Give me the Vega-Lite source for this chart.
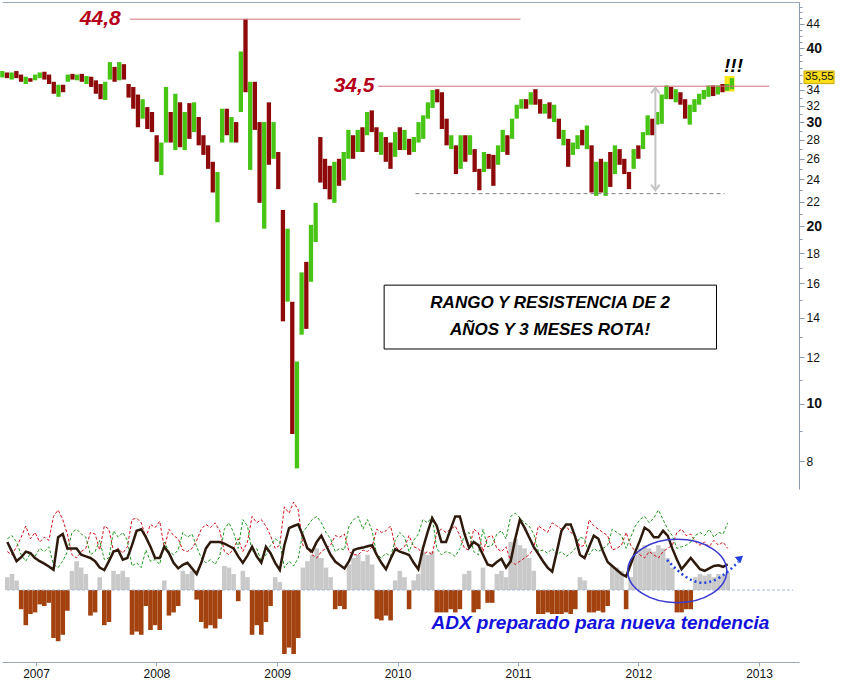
{
"$schema":"https://vega.github.io/schema/vega-lite/v6.json",
"padding":0,
"background":"white",
"spacing":5,
"config":{"view":{"stroke":null},"font":"Liberation Sans"},
"datasets":{
"bars":[
{"d":"2006-10-06","o":36.0,"h":36.6,"l":35.7,"c":36.3,"adx":30,"hist":8,"dip":32,"dim":24},
{"d":"2006-10-20","o":36.3,"h":36.4,"l":35.6,"c":35.8,"adx":24,"hist":10,"dip":34,"dim":22},
{"d":"2006-11-03","o":35.8,"h":36.4,"l":35.4,"c":36.2,"adx":18,"hist":6,"dip":30,"dim":27},
{"d":"2006-11-17","o":36.2,"h":36.6,"l":35.6,"c":35.9,"adx":20.5,"hist":-12,"dip":22,"dim":33},
{"d":"2006-12-01","o":35.9,"h":36.1,"l":35.1,"c":35.3,"adx":24,"hist":-22,"dip":18,"dim":40},
{"d":"2006-12-15","o":35.3,"h":35.8,"l":34.8,"c":35.5,"adx":23,"hist":-15,"dip":23,"dim":32},
{"d":"2006-12-29","o":35.5,"h":35.6,"l":35.1,"c":35.2,"adx":20,"hist":-14,"dip":21,"dim":36},
{"d":"2007-01-12","o":35.3,"h":36.1,"l":35.3,"c":35.9,"adx":18,"hist":-9,"dip":26,"dim":30},
{"d":"2007-01-26","o":35.9,"h":36.4,"l":35.6,"c":36.2,"adx":16.5,"hist":-10,"dip":24,"dim":33},
{"d":"2007-02-09","o":36.2,"h":36.5,"l":35.4,"c":35.6,"adx":14.7,"hist":-8,"dip":27,"dim":31},
{"d":"2007-02-23","o":35.6,"h":36.1,"l":34.8,"c":35.0,"adx":12.6,"hist":-30,"dip":16,"dim":46},
{"d":"2007-03-09","o":35.0,"h":35.1,"l":33.5,"c":33.8,"adx":33,"hist":-32,"dip":14,"dim":50},
{"d":"2007-03-23","o":33.8,"h":34.7,"l":33.1,"c":34.3,"adx":35,"hist":-28,"dip":18,"dim":44},
{"d":"2007-04-06","o":34.3,"h":34.7,"l":33.7,"c":34.0,"adx":26,"hist":-13,"dip":24,"dim":35},
{"d":"2007-04-20","o":35.1,"h":36.1,"l":35.1,"c":35.9,"adx":26,"hist":12,"dip":36,"dim":22},
{"d":"2007-05-04","o":35.9,"h":36.2,"l":35.4,"c":35.6,"adx":26,"hist":18,"dip":38,"dim":20},
{"d":"2007-05-18","o":35.6,"h":36.1,"l":35.3,"c":35.8,"adx":22,"hist":14,"dip":35,"dim":24},
{"d":"2007-06-01","o":35.8,"h":36.2,"l":35.1,"c":35.4,"adx":21,"hist":10,"dip":33,"dim":26},
{"d":"2007-06-15","o":35.4,"h":35.9,"l":34.8,"c":35.6,"adx":20,"hist":-16,"dip":22,"dim":36},
{"d":"2007-06-29","o":35.6,"h":35.8,"l":34.4,"c":34.7,"adx":18,"hist":-14,"dip":24,"dim":35},
{"d":"2007-07-13","o":34.7,"h":35.3,"l":33.5,"c":34.0,"adx":14,"hist":8,"dip":31,"dim":25},
{"d":"2007-07-27","o":34.0,"h":34.8,"l":32.8,"c":33.2,"adx":12.5,"hist":-22,"dip":19,"dim":40},
{"d":"2007-08-10","o":33.2,"h":35.1,"l":32.7,"c":34.8,"adx":18,"hist":-20,"dip":20,"dim":38},
{"d":"2007-08-24","o":35.6,"h":37.9,"l":35.4,"c":37.2,"adx":24,"hist":12,"dip":37,"dim":24},
{"d":"2007-09-07","o":37.0,"h":37.2,"l":35.1,"c":35.6,"adx":25,"hist":10,"dip":33,"dim":26},
{"d":"2007-09-21","o":35.6,"h":37.9,"l":35.3,"c":37.4,"adx":19,"hist":12,"dip":36,"dim":23},
{"d":"2007-10-05","o":37.4,"h":37.6,"l":35.4,"c":35.8,"adx":20,"hist":8,"dip":31,"dim":27},
{"d":"2007-10-19","o":34.6,"h":34.8,"l":33.0,"c":33.4,"adx":28,"hist":-28,"dip":15,"dim":44},
{"d":"2007-11-02","o":33.4,"h":34.4,"l":31.6,"c":32.0,"adx":37,"hist":-26,"dip":17,"dim":45},
{"d":"2007-11-16","o":32.0,"h":33.4,"l":29.4,"c":30.0,"adx":38,"hist":-28,"dip":14,"dim":42},
{"d":"2007-11-30","o":30.6,"h":32.8,"l":30.4,"c":32.2,"adx":33,"hist":-10,"dip":25,"dim":33},
{"d":"2007-12-14","o":31.5,"h":31.8,"l":29.2,"c":29.8,"adx":27,"hist":-25,"dip":18,"dim":41},
{"d":"2007-12-28","o":29.8,"h":31.2,"l":28.85,"c":29.2,"adx":20,"hist":-22,"dip":19,"dim":39},
{"d":"2008-01-11","o":28.2,"h":28.5,"l":25.7,"c":26.2,"adx":20,"hist":-25,"dip":16,"dim":43},
{"d":"2008-01-25","o":26.2,"h":27.7,"l":24.4,"c":27.2,"adx":27,"hist":6,"dip":30,"dim":26},
{"d":"2008-02-08","o":28.0,"h":34.4,"l":27.7,"c":31.5,"adx":23,"hist":-16,"dip":24,"dim":38},
{"d":"2008-02-22","o":31.0,"h":31.2,"l":27.7,"c":28.3,"adx":17,"hist":-14,"dip":22,"dim":34},
{"d":"2008-03-07","o":28.3,"h":33.5,"l":26.9,"c":31.8,"adx":13.5,"hist":-10,"dip":25,"dim":32},
{"d":"2008-03-21","o":31.8,"h":32.4,"l":27.2,"c":28.2,"adx":15.7,"hist":12,"dip":36,"dim":25},
{"d":"2008-04-04","o":28.2,"h":31.2,"l":26.9,"c":30.5,"adx":17,"hist":10,"dip":33,"dim":24},
{"d":"2008-04-18","o":30.5,"h":32.3,"l":28.1,"c":29.0,"adx":13.5,"hist":12,"dip":35,"dim":26},
{"d":"2008-05-02","o":29.0,"h":32.4,"l":28.85,"c":31.8,"adx":10,"hist":-6,"dip":27,"dim":31},
{"d":"2008-05-16","o":30.4,"h":30.6,"l":27.4,"c":28.0,"adx":17,"hist":-20,"dip":20,"dim":38},
{"d":"2008-05-30","o":28.0,"h":28.5,"l":26.4,"c":26.8,"adx":26,"hist":-24,"dip":17,"dim":41},
{"d":"2008-06-13","o":26.8,"h":27.4,"l":25.0,"c":25.4,"adx":30,"hist":-22,"dip":19,"dim":39},
{"d":"2008-06-27","o":25.4,"h":25.7,"l":22.8,"c":23.4,"adx":30,"hist":-24,"dip":16,"dim":42},
{"d":"2008-07-11","o":23.4,"h":24.7,"l":20.3,"c":23.8,"adx":30,"hist":-18,"dip":21,"dim":37},
{"d":"2008-07-25","o":28.0,"h":31.6,"l":27.7,"c":30.8,"adx":29,"hist":15,"dip":38,"dim":24},
{"d":"2008-08-08","o":30.8,"h":31.6,"l":28.5,"c":29.2,"adx":27.5,"hist":14,"dip":42,"dim":22},
{"d":"2008-08-22","o":29.2,"h":30.6,"l":27.7,"c":30.0,"adx":26,"hist":10,"dip":36,"dim":26},
{"d":"2008-09-05","o":30.0,"h":30.0,"l":27.7,"c":28.4,"adx":21,"hist":-7,"dip":26,"dim":32},
{"d":"2008-09-19","o":31.5,"h":39.5,"l":31.2,"c":38.0,"adx":17,"hist":12,"dip":44,"dim":24},
{"d":"2008-10-03","o":38.0,"h":44.8,"l":33.7,"c":36.0,"adx":21.5,"hist":8,"dip":40,"dim":30},
{"d":"2008-10-17","o":31.0,"h":35.1,"l":24.9,"c":34.5,"adx":27,"hist":-28,"dip":24,"dim":46},
{"d":"2008-10-31","o":34.5,"h":35.1,"l":29.1,"c":30.0,"adx":21,"hist":-22,"dip":26,"dim":42},
{"d":"2008-11-14","o":29.8,"h":30.0,"l":21.9,"c":26.0,"adx":17,"hist":-28,"dip":18,"dim":44},
{"d":"2008-11-28","o":24.0,"h":30.0,"l":19.8,"c":29.0,"adx":27,"hist":-20,"dip":22,"dim":40},
{"d":"2008-12-12","o":29.0,"h":32.4,"l":25.4,"c":27.0,"adx":23,"hist":-10,"dip":28,"dim":34},
{"d":"2008-12-26","o":27.0,"h":30.0,"l":26.0,"c":28.5,"adx":17,"hist":8,"dip":32,"dim":26},
{"d":"2009-01-09","o":26.5,"h":26.7,"l":23.1,"c":23.6,"adx":12.5,"hist":5,"dip":30,"dim":28},
{"d":"2009-01-23","o":21.0,"h":21.3,"l":13.8,"c":15.0,"adx":28,"hist":-40,"dip":14,"dim":52},
{"d":"2009-02-06","o":15.2,"h":19.8,"l":14.9,"c":18.5,"adx":38.7,"hist":-36,"dip":18,"dim":48},
{"d":"2009-02-20","o":14.5,"h":14.9,"l":8.9,"c":9.8,"adx":40,"hist":-40,"dip":15,"dim":55},
{"d":"2009-03-06","o":8.5,"h":11.8,"l":7.78,"c":11.0,"adx":41,"hist":-30,"dip":20,"dim":50},
{"d":"2009-03-20","o":13.5,"h":16.7,"l":13.1,"c":15.8,"adx":34,"hist":14,"dip":36,"dim":28},
{"d":"2009-04-03","o":15.8,"h":17.4,"l":13.4,"c":14.2,"adx":26,"hist":18,"dip":40,"dim":26},
{"d":"2009-04-17","o":16.5,"h":20.1,"l":16.1,"c":19.2,"adx":24,"hist":22,"dip":44,"dim":22},
{"d":"2009-05-01","o":19.2,"h":21.9,"l":18.8,"c":21.0,"adx":30,"hist":26,"dip":46,"dim":20},
{"d":"2009-05-15","o":27.0,"h":28.3,"l":23.7,"c":25.0,"adx":34,"hist":20,"dip":42,"dim":24},
{"d":"2009-05-29","o":25.0,"h":26.0,"l":23.1,"c":24.0,"adx":28,"hist":14,"dip":36,"dim":26},
{"d":"2009-06-12","o":24.0,"h":25.3,"l":22.2,"c":23.0,"adx":22,"hist":8,"dip":32,"dim":28},
{"d":"2009-06-26","o":23.0,"h":25.7,"l":21.9,"c":24.8,"adx":17.8,"hist":-12,"dip":24,"dim":34},
{"d":"2009-07-10","o":24.8,"h":26.0,"l":23.4,"c":24.0,"adx":15.6,"hist":-10,"dip":26,"dim":33},
{"d":"2009-07-24","o":24.0,"h":26.7,"l":23.9,"c":26.2,"adx":13.5,"hist":-12,"dip":25,"dim":35},
{"d":"2009-08-07","o":26.2,"h":29.1,"l":26.0,"c":28.5,"adx":18,"hist":16,"dip":40,"dim":24},
{"d":"2009-08-21","o":28.0,"h":28.5,"l":26.0,"c":26.8,"adx":25,"hist":20,"dip":44,"dim":22},
{"d":"2009-09-04","o":26.8,"h":29.1,"l":26.7,"c":28.6,"adx":26,"hist":22,"dip":46,"dim":22},
{"d":"2009-09-18","o":28.6,"h":29.4,"l":26.7,"c":27.5,"adx":26.5,"hist":18,"dip":38,"dim":25},
{"d":"2009-10-02","o":28.6,"h":31.2,"l":28.5,"c":30.8,"adx":27.3,"hist":22,"dip":44,"dim":24},
{"d":"2009-10-16","o":30.8,"h":31.4,"l":28.85,"c":29.2,"adx":28,"hist":16,"dip":37,"dim":27},
{"d":"2009-10-30","o":29.2,"h":29.4,"l":26.7,"c":27.2,"adx":22,"hist":-18,"dip":22,"dim":38},
{"d":"2009-11-13","o":27.2,"h":28.85,"l":26.4,"c":28.0,"adx":17,"hist":-19,"dip":20,"dim":36},
{"d":"2009-11-27","o":28.0,"h":28.3,"l":25.7,"c":26.0,"adx":13,"hist":-16,"dip":23,"dim":37},
{"d":"2009-12-11","o":26.0,"h":27.7,"l":25.0,"c":25.6,"adx":19.5,"hist":-19,"dip":21,"dim":40},
{"d":"2009-12-25","o":26.2,"h":28.85,"l":26.2,"c":28.4,"adx":25.5,"hist":6,"dip":31,"dim":27},
{"d":"2010-01-08","o":28.4,"h":29.4,"l":26.9,"c":27.4,"adx":24,"hist":12,"dip":36,"dim":25},
{"d":"2010-01-22","o":27.4,"h":29.1,"l":26.9,"c":28.6,"adx":23,"hist":8,"dip":33,"dim":27},
{"d":"2010-02-05","o":28.0,"h":28.1,"l":26.4,"c":26.8,"adx":21.9,"hist":-12,"dip":24,"dim":34},
{"d":"2010-02-19","o":26.8,"h":28.3,"l":26.7,"c":28.0,"adx":17,"hist":6,"dip":31,"dim":27},
{"d":"2010-03-05","o":28.0,"h":30.0,"l":27.7,"c":29.6,"adx":13,"hist":10,"dip":35,"dim":26},
{"d":"2010-03-19","o":29.6,"h":30.8,"l":28.1,"c":30.4,"adx":26,"hist":24,"dip":44,"dim":22},
{"d":"2010-04-02","o":30.6,"h":32.4,"l":30.4,"c":32.0,"adx":36,"hist":22,"dip":42,"dim":24},
{"d":"2010-04-16","o":32.0,"h":34.0,"l":31.7,"c":33.6,"adx":45,"hist":24,"dip":46,"dim":22},
{"d":"2010-04-30","o":33.6,"h":34.1,"l":32.4,"c":32.8,"adx":40,"hist":-14,"dip":26,"dim":36},
{"d":"2010-05-14","o":33.0,"h":33.7,"l":29.2,"c":29.8,"adx":30,"hist":-14,"dip":22,"dim":38},
{"d":"2010-05-28","o":29.8,"h":30.4,"l":27.4,"c":27.8,"adx":30,"hist":-14,"dip":24,"dim":36},
{"d":"2010-06-11","o":27.8,"h":28.5,"l":27.0,"c":28.2,"adx":38,"hist":-12,"dip":23,"dim":38},
{"d":"2010-06-25","o":27.2,"h":27.4,"l":24.5,"c":25.0,"adx":46,"hist":-14,"dip":21,"dim":40},
{"d":"2010-07-09","o":25.0,"h":28.5,"l":25.0,"c":28.0,"adx":46,"hist":-12,"dip":26,"dim":34},
{"d":"2010-07-23","o":28.0,"h":28.5,"l":25.7,"c":26.2,"adx":35,"hist":10,"dip":34,"dim":26},
{"d":"2010-08-06","o":26.4,"h":28.5,"l":26.4,"c":28.0,"adx":26.5,"hist":12,"dip":36,"dim":25},
{"d":"2010-08-20","o":27.0,"h":27.0,"l":24.7,"c":25.0,"adx":30,"hist":-14,"dip":24,"dim":38},
{"d":"2010-09-03","o":25.0,"h":25.0,"l":23.0,"c":23.6,"adx":28,"hist":-12,"dip":22,"dim":36},
{"d":"2010-09-17","o":24.8,"h":26.7,"l":24.7,"c":26.2,"adx":22,"hist":14,"dip":38,"dim":24},
{"d":"2010-10-01","o":26.2,"h":26.5,"l":25.0,"c":25.4,"adx":16,"hist":-8,"dip":27,"dim":33},
{"d":"2010-10-15","o":25.4,"h":26.4,"l":23.4,"c":24.0,"adx":15,"hist":-8,"dip":28,"dim":34},
{"d":"2010-10-29","o":25.6,"h":27.4,"l":25.4,"c":27.0,"adx":17.5,"hist":10,"dip":35,"dim":26},
{"d":"2010-11-12","o":27.0,"h":29.1,"l":26.7,"c":28.8,"adx":19.5,"hist":12,"dip":37,"dim":24},
{"d":"2010-11-26","o":28.4,"h":28.5,"l":26.4,"c":26.8,"adx":14,"hist":8,"dip":32,"dim":27},
{"d":"2010-12-10","o":28.2,"h":30.4,"l":28.1,"c":30.0,"adx":18,"hist":30,"dip":46,"dim":18},
{"d":"2010-12-24","o":30.4,"h":32.1,"l":30.4,"c":31.8,"adx":32,"hist":32,"dip":48,"dim":16},
{"d":"2011-01-07","o":31.8,"h":32.8,"l":31.6,"c":32.4,"adx":44,"hist":28,"dip":45,"dim":18},
{"d":"2011-01-21","o":32.4,"h":32.8,"l":31.6,"c":31.9,"adx":39,"hist":26,"dip":42,"dim":20},
{"d":"2011-02-04","o":32.2,"h":33.7,"l":32.1,"c":33.4,"adx":33,"hist":20,"dip":40,"dim":22},
{"d":"2011-02-18","o":33.4,"h":34.1,"l":32.1,"c":32.6,"adx":27,"hist":12,"dip":35,"dim":26},
{"d":"2011-03-04","o":32.6,"h":32.8,"l":31.0,"c":31.4,"adx":22.5,"hist":-15,"dip":24,"dim":40},
{"d":"2011-03-18","o":31.4,"h":32.2,"l":31.0,"c":31.9,"adx":18,"hist":-15,"dip":25,"dim":38},
{"d":"2011-04-01","o":31.9,"h":32.4,"l":30.4,"c":30.8,"adx":14,"hist":-14,"dip":23,"dim":36},
{"d":"2011-04-15","o":30.8,"h":32.1,"l":30.0,"c":31.6,"adx":11.5,"hist":-15,"dip":26,"dim":42},
{"d":"2011-04-29","o":30.2,"h":30.4,"l":28.1,"c":28.4,"adx":24,"hist":-15,"dip":22,"dim":40},
{"d":"2011-05-13","o":28.4,"h":29.1,"l":27.4,"c":28.8,"adx":37,"hist":-15,"dip":24,"dim":38},
{"d":"2011-05-27","o":28.0,"h":28.1,"l":25.2,"c":26.2,"adx":41,"hist":-14,"dip":21,"dim":40},
{"d":"2011-06-10","o":26.5,"h":27.7,"l":26.4,"c":27.3,"adx":41,"hist":-15,"dip":23,"dim":36},
{"d":"2011-06-24","o":27.3,"h":28.5,"l":27.0,"c":28.1,"adx":33,"hist":-12,"dip":26,"dim":34},
{"d":"2011-07-08","o":28.1,"h":29.1,"l":27.4,"c":27.6,"adx":22,"hist":8,"dip":33,"dim":27},
{"d":"2011-07-22","o":27.6,"h":29.6,"l":27.0,"c":29.2,"adx":20,"hist":6,"dip":32,"dim":28},
{"d":"2011-08-05","o":27.2,"h":27.4,"l":22.8,"c":23.4,"adx":27,"hist":-14,"dip":22,"dim":44},
{"d":"2011-08-19","o":23.4,"h":25.7,"l":22.5,"c":25.0,"adx":34,"hist":-14,"dip":26,"dim":40},
{"d":"2011-09-02","o":25.0,"h":26.0,"l":22.8,"c":23.2,"adx":32,"hist":-13,"dip":24,"dim":38},
{"d":"2011-09-16","o":23.2,"h":25.7,"l":22.5,"c":25.2,"adx":24,"hist":-14,"dip":26,"dim":36},
{"d":"2011-09-30","o":25.2,"h":26.7,"l":23.3,"c":24.0,"adx":17.5,"hist":-10,"dip":28,"dim":34},
{"d":"2011-10-14","o":24.6,"h":27.4,"l":24.5,"c":26.8,"adx":15,"hist":15,"dip":38,"dim":25},
{"d":"2011-10-28","o":26.8,"h":27.0,"l":25.4,"c":25.8,"adx":12.5,"hist":14,"dip":36,"dim":26},
{"d":"2011-11-11","o":25.8,"h":26.0,"l":24.5,"c":24.8,"adx":10,"hist":12,"dip":34,"dim":28},
{"d":"2011-11-25","o":24.6,"h":24.7,"l":23.1,"c":23.6,"adx":8.5,"hist":-12,"dip":26,"dim":36},
{"d":"2011-12-09","o":25.0,"h":27.0,"l":25.0,"c":26.6,"adx":16,"hist":8,"dip":33,"dim":28},
{"d":"2011-12-23","o":26.6,"h":27.4,"l":26.0,"c":26.2,"adx":24,"hist":22,"dip":40,"dim":24},
{"d":"2012-01-06","o":27.0,"h":28.85,"l":27.0,"c":28.5,"adx":31,"hist":26,"dip":44,"dim":22},
{"d":"2012-01-20","o":28.5,"h":30.8,"l":28.5,"c":30.5,"adx":39,"hist":28,"dip":46,"dim":20},
{"d":"2012-02-03","o":30.2,"h":30.4,"l":28.5,"c":29.0,"adx":37,"hist":26,"dip":42,"dim":24},
{"d":"2012-02-17","o":29.8,"h":31.2,"l":29.7,"c":31.0,"adx":33,"hist":24,"dip":45,"dim":22},
{"d":"2012-03-02","o":30.0,"h":33.4,"l":29.8,"c":33.0,"adx":33,"hist":28,"dip":50,"dim":20},
{"d":"2012-03-16","o":33.0,"h":34.6,"l":32.8,"c":34.2,"adx":37,"hist":26,"dip":44,"dim":24},
{"d":"2012-03-30","o":34.2,"h":34.4,"l":32.8,"c":33.2,"adx":34,"hist":20,"dip":38,"dim":26},
{"d":"2012-04-13","o":33.2,"h":34.1,"l":32.4,"c":33.8,"adx":26,"hist":14,"dip":34,"dim":28},
{"d":"2012-04-27","o":33.6,"h":33.7,"l":32.1,"c":32.4,"adx":19,"hist":-14,"dip":26,"dim":36},
{"d":"2012-05-11","o":32.4,"h":32.8,"l":30.4,"c":30.8,"adx":13,"hist":-14,"dip":27,"dim":38},
{"d":"2012-05-25","o":30.2,"h":32.1,"l":29.7,"c":31.8,"adx":16.5,"hist":-12,"dip":28,"dim":34},
{"d":"2012-06-08","o":31.4,"h":32.8,"l":31.2,"c":32.6,"adx":20,"hist":-12,"dip":30,"dim":35},
{"d":"2012-06-22","o":32.4,"h":33.5,"l":32.1,"c":33.2,"adx":16.5,"hist":8,"dip":34,"dim":30},
{"d":"2012-07-06","o":33.2,"h":34.0,"l":32.8,"c":33.8,"adx":13,"hist":10,"dip":36,"dim":28},
{"d":"2012-07-20","o":33.6,"h":34.6,"l":33.1,"c":34.2,"adx":12,"hist":9,"dip":34,"dim":30},
{"d":"2012-08-03","o":34.2,"h":34.6,"l":33.2,"c":33.6,"adx":13.5,"hist":10,"dip":38,"dim":27},
{"d":"2012-08-17","o":33.6,"h":34.6,"l":33.4,"c":34.3,"adx":15,"hist":8,"dip":33,"dim":31},
{"d":"2012-08-31","o":34.3,"h":34.8,"l":33.7,"c":34.0,"adx":15.5,"hist":10,"dip":36,"dim":28},
{"d":"2012-09-14","o":34.0,"h":34.8,"l":33.9,"c":34.5,"adx":14.5,"hist":9,"dip":35,"dim":30},
{"d":"2012-09-28","o":34.3,"h":35.6,"l":34.1,"c":35.55,"adx":16,"hist":11,"dip":42,"dim":26}
],
"levels":[
{"s":"2007-10-23","e":"2011-01-04","p":44.8},
{"s":"2009-11-04","e":"2013-01-18","p":34.5}
],
"levelText":[
{"d":"2007-07-26","p":44.8,"t":"44,8"},
{"d":"2009-08-24","p":34.5,"t":"34,5"}
],
"support":[{"s":"2010-02-24","e":"2012-09-06","p":22.7}],
"range":[{"d":"2012-02-12","lo":23.0,"hi":34.3}],
"heads":[{"d":"2012-02-12","p":34.3,"dir":"up"},{"d":"2012-02-12","p":23.0,"dir":"down"}],
"hilite":[{"s":"2012-09-06","e":"2012-10-06","lo":33.8,"hi":35.9}],
"bang":[{"d":"2012-10-03","p":37.3,"t":"!!!"}],
"box":[{"s":"2009-11-22","e":"2012-08-13","lo":12.39,"hi":15.89}],
"boxText":[{"d":"2011-04-03","p":14.82,"t":"RANGO Y RESISTENCIA DE 2"},{"d":"2011-04-03","p":13.34,"t":"AÑOS Y 3 MESES ROTA!"}],
"lastBox":[{"s":"2013-05-02","e":"2013-07-31","lo":34.85,"hi":36.6}],
"lastText":[{"d":"2013-06-17","p":35.7,"t":"35,55"}],
"base":[{"s":"2006-10-05","e":"2013-04-15","v":0}],
"ellipse":[{"d":"2012-04-28","v":11.9}],
"curve":[{"d":"2012-03-28","v":18.75,"k":1},{"d":"2012-05-18","v":8.1,"k":2},{"d":"2012-07-11","v":3.1,"k":3},{"d":"2012-09-06","v":6.9,"k":4},{"d":"2012-10-30","v":17.5,"k":5}],
"tip":[{"d":"2012-11-05","v":20}],
"adxText":[{"d":"2011-09-08","v":-20.6,"t":"ADX preparado para nueva tendencia"}]
},
"vconcat":[
{
"width":797,"height":487,
"layer":[
{"data":{"name":"hilite"},"mark":{"type":"rect","color":"#f6e600","opacity":0.9},
 "encoding":{
  "x":{"field":"s","type":"temporal","title":null,"scale":{"domain":[{"year":2006,"month":10,"date":5},{"year":2013,"month":4,"date":17}]},
       "axis":{"orient":"top","labels":false,"ticks":false,"title":null,"grid":false,"domainColor":"#9aa8b5","minExtent":0}},
  "x2":{"field":"e"},
  "y":{"field":"lo","type":"quantitative","title":null,"scale":{"type":"log","domain":[7.18,47.9],"nice":false},
       "axis":{"orient":"right","title":null,"grid":false,
        "values":[8,9,10,11,12,13,14,15,16,17,18,19,20,21,22,23,24,25,26,27,28,29,30,31,32,33,34,35,36,37,38,39,40,41,42,43,44,45,46,47],
        "labelExpr":"indexof([8,10,12,14,16,18,20,22,24,26,28,30,32,34,40,44], datum.value) >= 0 ? '' + datum.value : ''",
        "labelFontSize":{"condition":{"test":"datum.value % 10 == 0","value":14},"value":12},
        "labelFontWeight":{"condition":{"test":"datum.value % 10 == 0","value":"bold"},"value":"normal"},
        "tickSize":{"condition":{"test":"indexof([8,10,12,14,16,18,20,22,24,26,28,30,32,34,40,44], datum.value) >= 0","value":5},"value":3},
        "labelPadding":2,"labelOverlap":false,"labelBound":false,"labelFlush":false,
        "domainColor":"#8a9bb0","tickColor":"#8a9bb0","labelColor":"#111111","labelFont":"Liberation Sans"}},
  "y2":{"field":"hi"}}},
{"data":{"name":"bars"},"mark":{"type":"rule","strokeWidth":4.3},
 "encoding":{
  "x":{"field":"d","type":"temporal","title":null},
  "y":{"field":"l","type":"quantitative","title":null},
  "y2":{"field":"h"},
  "color":{"condition":{"test":"datum.c >= datum.o","value":"#47c414"},"value":"#8e0a0a"}}},
{"data":{"name":"levels"},"mark":{"type":"rule","color":"#cf6f7c","strokeWidth":1},
 "encoding":{"x":{"field":"s","type":"temporal","title":null},"x2":{"field":"e"},"y":{"field":"p","type":"quantitative","title":null}}},
{"data":{"name":"support"},"mark":{"type":"rule","color":"#808080","strokeWidth":1,"strokeDash":[4,3]},
 "encoding":{"x":{"field":"s","type":"temporal","title":null},"x2":{"field":"e"},"y":{"field":"p","type":"quantitative","title":null}}},
{"data":{"name":"range"},"mark":{"type":"rule","color":"#c4c4c4","strokeWidth":2},
 "encoding":{"x":{"field":"d","type":"temporal","title":null},"y":{"field":"lo","type":"quantitative","title":null},"y2":{"field":"hi"}}},
{"data":{"name":"heads"},"mark":{"type":"point","filled":false,"color":"#c4c4c4","strokeWidth":2,"size":200,"opacity":1},
 "encoding":{"x":{"field":"d","type":"temporal","title":null},"y":{"field":"p","type":"quantitative","title":null},
  "shape":{"field":"dir","type":"nominal","legend":null,"scale":{"domain":["up","down"],"range":["M-0.6,0.8L0,0L0.6,0.8","M-0.6,-0.8L0,0L0.6,-0.8"]}}}},
{"data":{"name":"levelText"},"mark":{"type":"text","fontSize":21,"fontWeight":"bold","fontStyle":"italic","color":"#b5001a","align":"center","baseline":"middle"},
 "encoding":{"x":{"field":"d","type":"temporal","title":null},"y":{"field":"p","type":"quantitative","title":null},"text":{"field":"t"}}},
{"data":{"name":"bang"},"mark":{"type":"text","fontSize":19,"fontWeight":"bold","fontStyle":"italic","color":"#000000","align":"center","baseline":"middle"},
 "encoding":{"x":{"field":"d","type":"temporal","title":null},"y":{"field":"p","type":"quantitative","title":null},"text":{"field":"t"}}},
{"data":{"name":"box"},"mark":{"type":"rect","fill":"white","stroke":"black","strokeWidth":1},
 "encoding":{"x":{"field":"s","type":"temporal","title":null},"x2":{"field":"e"},"y":{"field":"lo","type":"quantitative","title":null},"y2":{"field":"hi"}}},
{"data":{"name":"boxText"},"mark":{"type":"text","fontSize":17,"fontWeight":"bold","fontStyle":"italic","color":"#000000","align":"center","baseline":"middle"},
 "encoding":{"x":{"field":"d","type":"temporal","title":null},"y":{"field":"p","type":"quantitative","title":null},"text":{"field":"t"}}},
{"data":{"name":"lastBox"},"mark":{"type":"rect","fill":"#ffde1a","stroke":"#c8a800","strokeWidth":1},
 "encoding":{"x":{"field":"s","type":"temporal","title":null},"x2":{"field":"e"},"y":{"field":"lo","type":"quantitative","title":null},"y2":{"field":"hi"}}},
{"data":{"name":"lastText"},"mark":{"type":"text","fontSize":11.5,"color":"#111111","align":"center","baseline":"middle"},
 "encoding":{"x":{"field":"d","type":"temporal","title":null},"y":{"field":"p","type":"quantitative","title":null},"text":{"field":"t"}}}
]
},
{
"width":797,"height":168,
"layer":[
{"data":{"name":"bars"},"mark":{"type":"bar","width":4.6},
 "encoding":{
  "x":{"field":"d","type":"temporal","title":null,"scale":{"domain":[{"year":2006,"month":10,"date":5},{"year":2013,"month":4,"date":17}]},
       "axis":{"orient":"bottom","title":null,"grid":false,"format":"%Y","labelFlush":false,"labelBound":false,
        "values":[{"year":2007,"month":1,"date":1},{"year":2008,"month":1,"date":1},{"year":2009,"month":1,"date":1},{"year":2010,"month":1,"date":1},{"year":2011,"month":1,"date":1},{"year":2012,"month":1,"date":1},{"year":2013,"month":1,"date":1}],
        "labelFontSize":12,"labelColor":"#111111","domainColor":"#9aa8b5","tickColor":"#9aa8b5","tickSize":4,"labelPadding":2,"labelFont":"Liberation Sans"}},
  "y":{"field":"hist","type":"quantitative","title":null,"scale":{"domain":[-45,60],"nice":false,"zero":false},"axis":null},
  "y2":{"datum":0},
  "color":{"condition":{"test":"datum.hist >= 0","value":"#c9c9c9"},"value":"#a3420e"}}},
{"data":{"name":"base"},"mark":{"type":"rule","color":"#a9b8d8","strokeWidth":1,"strokeDash":[3,2]},
 "encoding":{"x":{"field":"s","type":"temporal","title":null},"x2":{"field":"e"},"y":{"field":"v","type":"quantitative","axis":null}}},
{"data":{"name":"bars"},"mark":{"type":"line","color":"#d0101c","strokeWidth":1,"strokeDash":[3,2]},
 "encoding":{"x":{"field":"d","type":"temporal","title":null},"y":{"field":"dim","type":"quantitative","axis":null}}},
{"data":{"name":"bars"},"mark":{"type":"line","color":"#1f9a1f","strokeWidth":1,"strokeDash":[3,2]},
 "encoding":{"x":{"field":"d","type":"temporal","title":null},"y":{"field":"dip","type":"quantitative","axis":null}}},
{"data":{"name":"bars"},"mark":{"type":"line","color":"#2e1a0c","strokeWidth":2.5},
 "encoding":{"x":{"field":"d","type":"temporal","title":null},"y":{"field":"adx","type":"quantitative","axis":null}}},
{"data":{"name":"ellipse"},"mark":{"type":"point","filled":false,"color":"#3a3ad0","strokeWidth":1.5,"opacity":1,"size":9801,"shape":"M-1,0A1,0.64,0,1,1,1,0A1,0.64,0,1,1,-1,0"},
 "encoding":{"x":{"field":"d","type":"temporal","title":null},"y":{"field":"v","type":"quantitative","axis":null}}},
{"data":{"name":"curve"},"mark":{"type":"line","color":"#2040e0","strokeWidth":2.5,"strokeDash":[2,3],"interpolate":"basis"},
 "encoding":{"x":{"field":"d","type":"temporal","title":null},"y":{"field":"v","type":"quantitative","axis":null},"order":{"field":"k"}}},
{"data":{"name":"tip"},"mark":{"type":"point","shape":"triangle-up","filled":true,"color":"#2040e0","size":70,"angle":50,"opacity":1},
 "encoding":{"x":{"field":"d","type":"temporal","title":null},"y":{"field":"v","type":"quantitative","axis":null}}},
{"data":{"name":"adxText"},"mark":{"type":"text","fontSize":19,"fontWeight":"bold","fontStyle":"italic","color":"#1212dc","align":"center","baseline":"middle"},
 "encoding":{"x":{"field":"d","type":"temporal","title":null},"y":{"field":"v","type":"quantitative","axis":null},"text":{"field":"t"}}}
]
}
]
}
